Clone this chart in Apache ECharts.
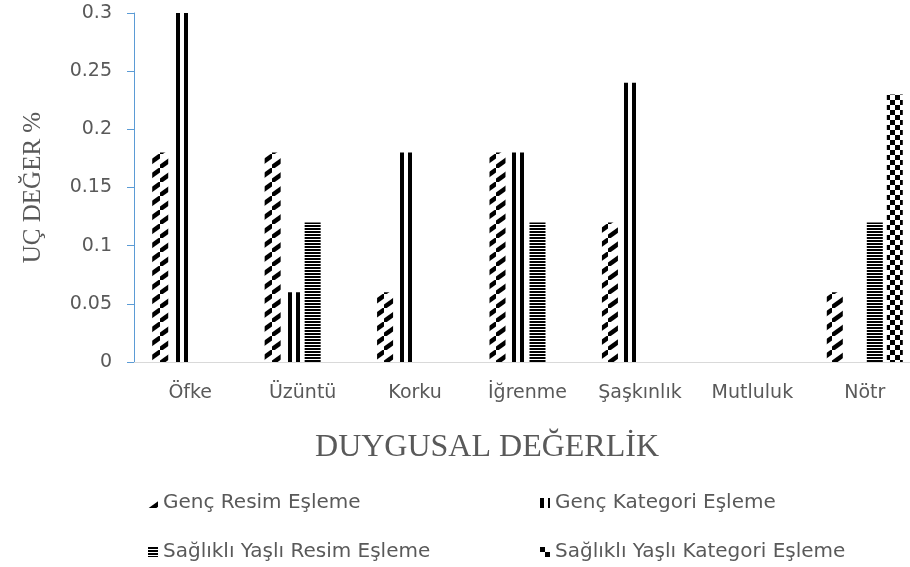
<!DOCTYPE html>
<html>
<head>
<meta charset="utf-8">
<script src="https://cdn.jsdelivr.net/npm/echarts@6/dist/echarts.min.js"></script>
<style>
  html, body { margin: 0; padding: 0; background: #fff; }
  #chart { width: 910px; height: 567px; }
</style>
</head>
<body>
<div id="chart"></div>
<script>
// Kategoriler ve seri değerleri
const categories = ["Öfke", "Üzüntü", "Korku", "İğrenme", "Şaşkınlık", "Mutluluk", "Nötr"];
const gencResim = [0.18, 0.18, 0.06, 0.18, 0.12, 0, 0.06];
const gencKategori = [0.30, 0.06, 0.18, 0.18, 0.24, 0, 0];
const yasliResim = [0, 0.12, 0, 0.12, 0, 0, 0.12];
const yasliKategori = [0, 0, 0, 0, 0, 0, 0.23];
const seriesNames = [
  "Genç Resim Eşleme",
  "Genç Kategori Eşleme",
  "Sağlıklı Yaşlı Resim Eşleme",
  "Sağlıklı Yaşlı Kategori Eşleme"
];

// Desen dokuları (Excel tarzı siyah-beyaz dolgular)
function makeTile(w, h, draw) {
  const c = document.createElement("canvas");
  c.width = w;
  c.height = h;
  const ctx = c.getContext("2d");
  ctx.fillStyle = "#fff";
  ctx.fillRect(0, 0, w, h);
  ctx.fillStyle = "#000";
  ctx.strokeStyle = "#000";
  draw(ctx);
  return { image: c, repeat: "repeat" };
}

const diagPattern = makeTile(16, 14, (ctx) => {
  ctx.lineWidth = 4.5;
  ctx.beginPath();
  ctx.moveTo(-1, 14);
  ctx.lineTo(17, 1);
  ctx.stroke();
});
const vertPattern = makeTile(8, 4, (ctx) => {
  ctx.fillRect(0, 0, 4, 4);
});
const horizPattern = makeTile(4, 3, (ctx) => {
  ctx.fillRect(0, 0, 4, 2);
});
const checkPattern = makeTile(10, 10, (ctx) => {
  ctx.fillRect(0, 0, 5, 5);
  ctx.fillRect(5, 5, 5, 5);
});
const patterns = [diagPattern, vertPattern, horizPattern, checkPattern];
const seriesData = [gencResim, gencKategori, yasliResim, yasliKategori];
const catIndex = categories.map((_, i) => i);

const chart = echarts.init(document.getElementById("chart"), null, { renderer: "canvas" });

const legendText = { color: "#595959", fontSize: 20, fontFamily: "DejaVu Sans" };
const legendPos = [
  { left: 143, top: 488 },
  { left: 535, top: 488 },
  { left: 143, top: 537 },
  { left: 535, top: 537 }
];

// Grafik sağ kenarda kırpılmış: son kategori bandı tuvalin dışına taşıyor
const option = {
  animation: false,
  backgroundColor: "#fff",
  grid: { left: 134, right: 0, top: 13, height: 349, containLabel: false },
  legend: legendPos.map((p, i) => ({
    left: p.left,
    top: p.top,
    data: [seriesNames[i]],
    icon: "rect",
    itemWidth: 10,
    itemHeight: 10,
    itemGap: 3,
    textStyle: legendText,
    selectedMode: false
  })),
  xAxis: {
    type: "value",
    min: -0.5,
    max: 6.402,
    name: "DUYGUSAL DEĞERLİK",
    nameLocation: "middle",
    nameGap: 70,
    nameTextStyle: {
      fontFamily: "Liberation Serif",
      fontSize: 32,
      color: "#595959",
      padding: [0, 70, 0, 0]
    },
    axisLine: { onZero: false, lineStyle: { color: "#d9d9d9", width: 1 } },
    axisTick: { show: false },
    axisLabel: {
      customValues: catIndex,
      formatter: (v) => categories[Math.round(v)] || "",
      color: "#595959",
      fontSize: 19,
      fontFamily: "DejaVu Sans",
      margin: 22
    },
    splitLine: { show: false }
  },
  yAxis: {
    type: "value",
    min: 0,
    max: 0.3,
    interval: 0.05,
    name: "UÇ DEĞER %",
    nameLocation: "middle",
    nameGap: 88,
    nameTextStyle: { fontFamily: "Liberation Serif", fontSize: 25, color: "#595959" },
    axisLine: { show: true, onZero: false, lineStyle: { color: "#5b9bd5", width: 1 } },
    axisTick: { show: true, length: 7, lineStyle: { color: "#5b9bd5" } },
    axisLabel: { color: "#595959", fontSize: 19, fontFamily: "DejaVu Sans", margin: 22 },
    splitLine: { show: false }
  },
  series: seriesNames.map((name, i) => ({
    name: name,
    type: "bar",
    data: seriesData[i].map((v, j) => [catIndex[j], v]),
    barWidth: 16,
    barGap: "25%",
    itemStyle: { color: patterns[i] },
    emphasis: { disabled: true }
  }))
};

chart.setOption(option);
</script>
</body>
</html>
